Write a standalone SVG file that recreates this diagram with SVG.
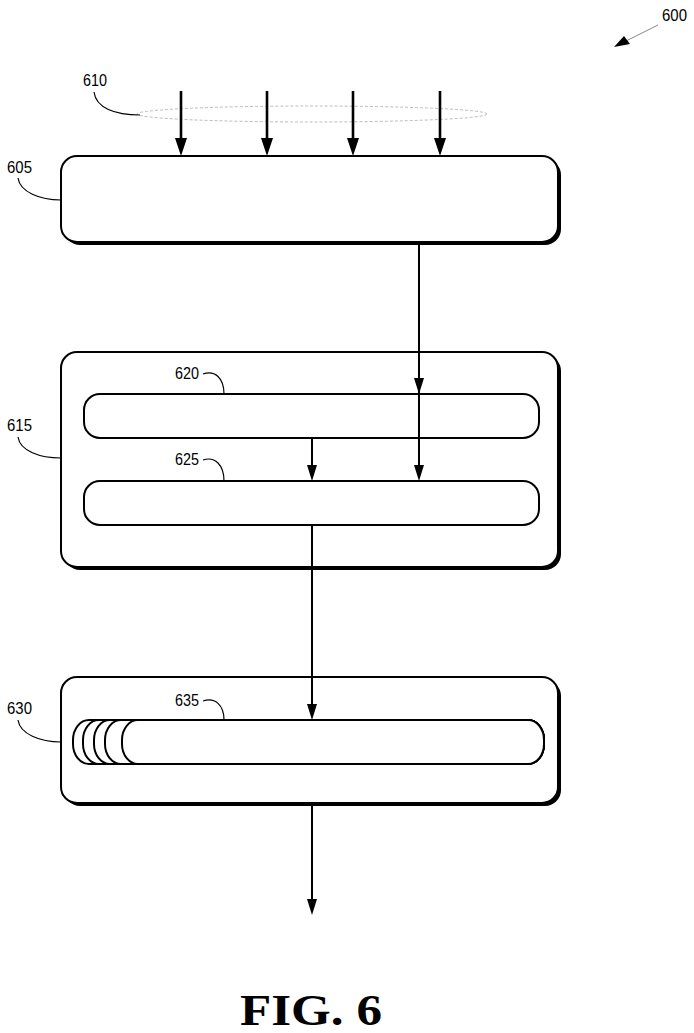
<svg xmlns="http://www.w3.org/2000/svg" width="694" height="1033" viewBox="0 0 694 1033">
<style>
.box{fill:#fff;stroke:#000;stroke-width:2}
.shadow{fill:#000}
.inner{fill:#fff;stroke:#000;stroke-width:2}
.lbl{font-family:"Liberation Sans",Arial,sans-serif;font-size:17px;fill:#000}
.lead{fill:none;stroke:#000;stroke-width:1.2}
.conn{stroke:#000;stroke-width:2;fill:none}
.connb{stroke:#000;stroke-width:2.6;fill:none}
</style>
<defs>
<marker id="ah" viewBox="0 0 16 10" refX="10" refY="5" markerWidth="16" markerHeight="10" markerUnits="userSpaceOnUse" orient="auto">
<path d="M0,0 L16,5 L0,10 Z" fill="#000"/>
</marker>
<marker id="ahb" viewBox="0 0 18 12" refX="11" refY="6" markerWidth="18" markerHeight="12" markerUnits="userSpaceOnUse" orient="auto">
<path d="M0,0 L18,6 L0,12 Z" fill="#000"/>
</marker>
</defs>
<rect width="694" height="1033" fill="#fff"/>

<g id="n600">
<text class="lbl" x="662" y="21" textLength="25" lengthAdjust="spacingAndGlyphs">600</text>
<line x1="658" y1="25" x2="626" y2="41" stroke="#888" stroke-width="1"/>
<path d="M614,47 L624,36 L630,44 Z" fill="#000"/>
</g>

<g id="n610">
<ellipse cx="312" cy="114" rx="175" ry="8" fill="none" stroke="#bbb" stroke-width="1" stroke-dasharray="3 2"/>
<text class="lbl" x="83" y="86" textLength="24" lengthAdjust="spacingAndGlyphs">610</text>
<path class="lead" d="M94,92 C96,108 115,115 140,115"/>
</g>

<g id="n605">
<rect class="shadow" x="64" y="159" width="497" height="86" rx="16"/>
<rect class="box" x="61" y="156" width="497" height="86" rx="16"/>
<text class="lbl" x="7" y="173" textLength="25" lengthAdjust="spacingAndGlyphs">605</text>
<path class="lead" d="M18,178 C20,192 40,200 61,200"/>
</g>

<g id="n615">
<rect class="shadow" x="64" y="355" width="497" height="215" rx="16"/>
<rect class="box" x="61" y="352" width="497" height="215" rx="16"/>
<text class="lbl" x="7" y="431" textLength="25" lengthAdjust="spacingAndGlyphs">615</text>
<path class="lead" d="M18,437 C20,451 40,458 61,458"/>
</g>

<g id="n620">
<rect class="inner" x="84" y="394" width="455" height="44" rx="16"/>
<text class="lbl" x="175" y="379" textLength="24" lengthAdjust="spacingAndGlyphs">620</text>
<path class="lead" d="M203,374 C215,370 224,378 224,394"/>
</g>

<g id="n625">
<rect class="inner" x="84" y="481" width="455" height="44" rx="16"/>
<text class="lbl" x="175" y="465" textLength="24" lengthAdjust="spacingAndGlyphs">625</text>
<path class="lead" d="M203,460 C215,456 224,465 224,481"/>
</g>

<g id="n630">
<rect class="shadow" x="64" y="680" width="497" height="126" rx="16"/>
<rect class="box" x="61" y="677" width="497" height="126" rx="16"/>
<text class="lbl" x="7" y="714" textLength="25" lengthAdjust="spacingAndGlyphs">630</text>
<path class="lead" d="M18,720 C20,734 40,742 61,742"/>
</g>

<g id="n635">
<rect class="inner" x="73" y="720" width="471" height="44" rx="16" ry="20"/>
<rect class="inner" x="83" y="720" width="461" height="44" rx="16" ry="20"/>
<rect class="inner" x="94" y="720" width="450" height="44" rx="16" ry="20"/>
<rect class="inner" x="105" y="720" width="439" height="44" rx="16" ry="20"/>
<rect class="inner" x="122" y="720" width="422" height="44" rx="16" ry="20"/>
<text class="lbl" x="175" y="706" textLength="24" lengthAdjust="spacingAndGlyphs">635</text>
<path class="lead" d="M203,701 C215,697 224,705 224,720"/>
</g>

<g id="connectors">
<line class="connb" x1="181" y1="91" x2="181" y2="149" marker-end="url(#ahb)"/>
<line class="connb" x1="267" y1="91" x2="267" y2="149" marker-end="url(#ahb)"/>
<line class="connb" x1="353" y1="91" x2="353" y2="149" marker-end="url(#ahb)"/>
<line class="connb" x1="440" y1="91" x2="440" y2="149" marker-end="url(#ahb)"/>
<line class="conn" x1="419" y1="243" x2="419" y2="388" marker-end="url(#ah)"/>
<line class="conn" x1="419" y1="388" x2="419" y2="475" marker-end="url(#ah)"/>
<line class="conn" x1="312" y1="439" x2="312" y2="475" marker-end="url(#ah)"/>
<line class="conn" x1="312" y1="526" x2="312" y2="714" marker-end="url(#ah)"/>
<line class="conn" x1="312" y1="805" x2="312" y2="909" marker-end="url(#ah)"/>
</g>

<text x="311" y="1025" text-anchor="middle" font-family="'Liberation Serif','Times New Roman',serif" font-weight="bold" font-size="44" textLength="142" lengthAdjust="spacingAndGlyphs">FIG. 6</text>
</svg>
